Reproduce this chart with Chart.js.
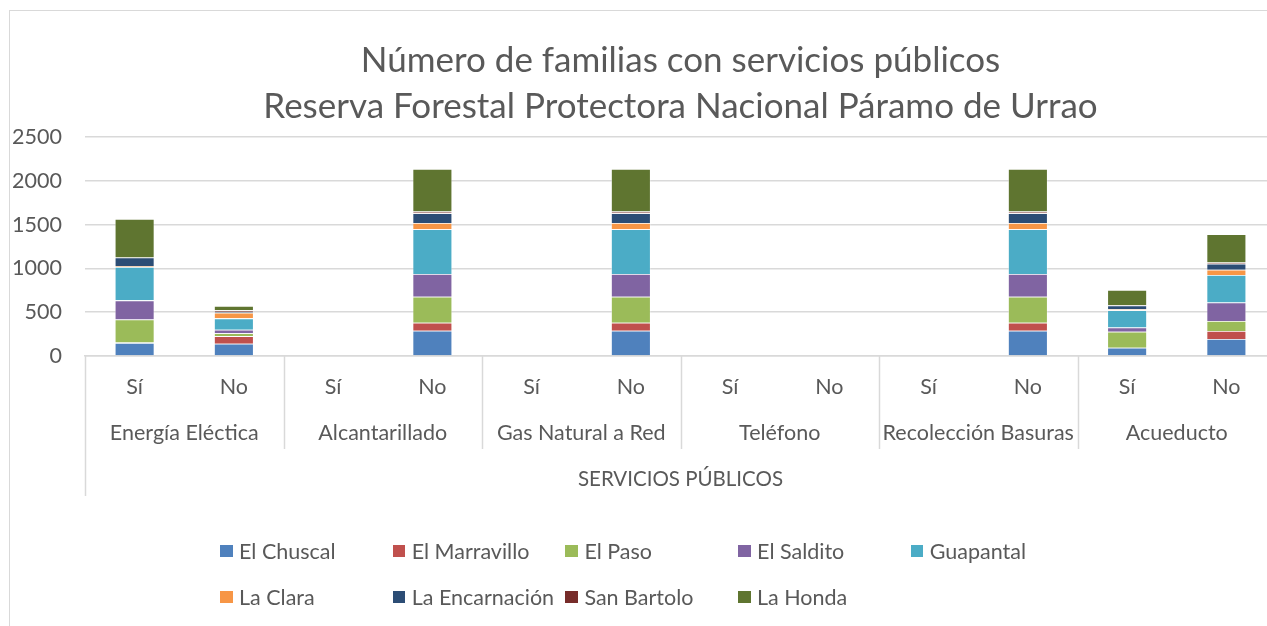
<!DOCTYPE html>
<html>
<head>
<meta charset="utf-8">
<script src="https://cdn.jsdelivr.net/npm/chart.js@4"></script>
<style>
  html, body { margin: 0; padding: 0; background: #fff; overflow: hidden; }
  #wrap { position: absolute; left: 0; top: 0; width: 1290px; height: 626px; }
  #frame { position: absolute; left: 9px; top: 10px; width: 1400px; height: 700px; border: 1.5px solid #d9d9d9; box-sizing: border-box; }
  #chart { position: absolute; left: 0; top: 0; }
  #legend { position: absolute; left: 220px; top: 537px; font-family: Lato, "Open Sans", sans-serif; font-size: 21.5px; color: #595959; }
  .row { display: flex; height: 46px; }
  .item { width: 172.7px; display: flex; align-items: center; height: 28px; white-space: nowrap; }
  .sw { width: 12.5px; height: 12.5px; margin-right: 6.5px; flex: none; }
</style>
</head>
<body>
<div id="wrap">
  <div id="frame"></div>
  <canvas id="chart" width="1290" height="626"></canvas>
  <div id="legend"></div>
</div>
<script>
// Datos
const groups = ['Energía Eléctica', 'Alcantarillado', 'Gas Natural a Red', 'Teléfono', 'Recolección Basuras', 'Acueducto'];
const answers = ['Sí', 'No'];
const yTicks = [0, 500, 1000, 1500, 2000, 2500];

const veredas = ['El Chuscal', 'El Marravillo', 'El Paso', 'El Saldito', 'Guapantal', 'La Clara', 'La Encarnación', 'San Bartolo', 'La Honda'];
const colores = ['#4F81BD', '#C0504D', '#9BBB59', '#8064A2', '#4BACC6', '#F79646', '#2C4D75', '#772C2A', '#5F7530'];

// columnas: EE Sí, EE No, Alc Sí, Alc No, Gas Sí, Gas No, Tel Sí, Tel No, Rec Sí, Rec No, Acu Sí, Acu No
const elChuscal     = [150, 139, 0, 289, 0, 289, 0, 0, 0, 289, 95, 194];
const elMarravillo  = [3, 88, 0, 91, 0, 91, 0, 0, 0, 91, 0, 91];
const elPaso        = [265, 32, 0, 297, 0, 297, 0, 0, 0, 297, 183, 114];
const elSaldito     = [217, 42, 0, 259, 0, 259, 0, 0, 0, 259, 48, 211];
const guapantal     = [382, 129, 0, 511, 0, 511, 0, 0, 0, 511, 197, 314];
const laClara       = [7, 65, 0, 72, 0, 72, 0, 0, 0, 72, 12, 60];
const laEncarnacion = [101, 10, 0, 111, 0, 111, 0, 0, 0, 111, 42, 69];
const sanBartolo    = [0, 18, 0, 18, 0, 18, 0, 0, 0, 18, 2, 14];
const laHonda       = [440, 47, 0, 487, 0, 487, 0, 0, 0, 487, 175, 322];

const series = [elChuscal, elMarravillo, elPaso, elSaldito, guapantal, laClara, laEncarnacion, sanBartolo, laHonda];

const xLabels = [];
groups.forEach(() => answers.forEach(a => xLabels.push(a)));

const FONT = 'Lato, "Open Sans", sans-serif';
const GRAY = '#595959';
const LINE = '#d9d9d9';

// líneas separadoras del eje de categorías de dos niveles
const separadores = {
    id: 'separadores',
    afterDraw(chart) {
        const x2 = chart.scales.x2;
        const area = chart.chartArea;
        const ctx = chart.ctx;
        const n = groups.length;
        ctx.save();
        ctx.strokeStyle = LINE;
        ctx.lineWidth = 1.5;
        for (let i = 0; i < n; i++) {
            let bx;
            if (i === 0) bx = x2.left;
            else bx = (x2.getPixelForValue(i - 1) + x2.getPixelForValue(i)) / 2;
            const yEnd = i === 0 ? x2.bottom : x2.top + 49;
            ctx.beginPath();
            ctx.moveTo(Math.round(bx) + 0.5, area.bottom);
            ctx.lineTo(Math.round(bx) + 0.5, yEnd);
            ctx.stroke();
        }
        ctx.restore();
    }
};

new Chart(document.getElementById('chart'), {
    type: 'bar',
    data: {
        labels: xLabels,
        datasets: veredas.map((v, i) => ({
            label: v,
            data: series[i],
            backgroundColor: colores[i],
            borderColor: 'rgba(255,255,255,0.45)',
            borderWidth: 0.8,
            barPercentage: 0.4,
            categoryPercentage: 1,
            xAxisID: 'x'
        }))
    },
    options: {
        responsive: false,
        animation: false,
        devicePixelRatio: 1,
        layout: { padding: { left: 0, right: 14, top: 0, bottom: 130 } },
        plugins: {
            legend: { display: false },
            tooltip: { enabled: false },
            title: {
                display: true,
                fullSize: false,
                text: ['Número de familias con servicios públicos', 'Reserva Forestal Protectora Nacional Páramo de Urrao'],
                color: GRAY,
                font: { family: FONT, size: 35, weight: 'normal', lineHeight: 1.314 },
                padding: { top: 38, bottom: 7 }
            }
        },
        scales: {
            x: {
                stacked: true,
                position: 'bottom',
                grid: { display: false, drawTicks: false },
                border: { display: true, color: LINE, width: 1.5 },
                ticks: { color: GRAY, font: { family: FONT, size: 21.5 }, padding: 18, maxRotation: 0, autoSkip: false },
                afterFit(s) { s.height = 44; }
            },
            x2: {
                type: 'category',
                labels: groups,
                offset: true,
                position: 'bottom',
                grid: { display: false, drawTicks: false },
                border: { display: false },
                ticks: { color: GRAY, font: { family: FONT, size: 21.5 }, padding: 20, maxRotation: 0, autoSkip: false },
                title: {
                    display: true,
                    text: 'SERVICIOS PÚBLICOS',
                    color: GRAY,
                    font: { family: FONT, size: 20.5 },
                    padding: { top: 22, bottom: 4 }
                },
                afterFit(s) { s.height = 96; }
            },
            y: {
                stacked: true,
                min: yTicks[0],
                max: yTicks[yTicks.length - 1],
                afterBuildTicks(s) { s.ticks = yTicks.map(v => ({ value: v })); },
                grid: { color: LINE, lineWidth: 1.5, drawTicks: false },
                border: { display: false },
                ticks: {
                    color: GRAY,
                    font: { family: FONT, size: 21.5 },
                    padding: 23,
                    callback: v => String(v)
                },
                afterFit(s) { s.width = 85; }
            }
        }
    },
    plugins: [separadores]
});

// leyenda en dos filas alineadas por columnas
const legend = document.getElementById('legend');
[veredas.slice(0, 5), veredas.slice(5)].forEach((fila, r) => {
    const row = document.createElement('div');
    row.className = 'row';
    fila.forEach((v, j) => {
        const idx = r * 5 + j;
        const item = document.createElement('div');
        item.className = 'item';
        item.innerHTML = `<span class="sw" style="background:${colores[idx]}"></span><span>${v}</span>`;
        row.appendChild(item);
    });
    legend.appendChild(row);
});
</script>
</body>
</html>
